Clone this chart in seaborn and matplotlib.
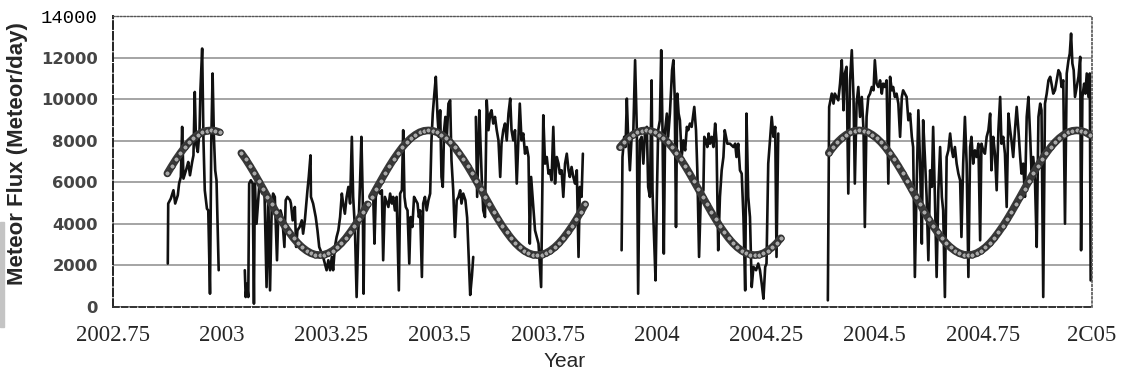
import numpy as np
import pandas as pd
import matplotlib
matplotlib.use("Agg")
import matplotlib.pyplot as plt
from matplotlib.patches import Rectangle
import seaborn as sns

# daily meteor flux as (year, meteors/day); gaps split the segments
seg1 = [(2002.876, 2090), (2002.877, 4980), (2002.883, 5220), (2002.889, 5620), (2002.893, 4980),
        (2002.899, 5380), (2002.902, 5940), (2002.906, 6260), (2002.909, 8670), (2002.912, 6180),
        (2002.919, 6660), (2002.923, 6980), (2002.927, 6340), (2002.932, 6980), (2002.935, 7300),
        (2002.938, 10350), (2002.941, 7860), (2002.945, 7460), (2002.949, 8510), (2002.951, 10430),
        (2002.955, 12440), (2002.958, 8020), (2002.961, 5620), (2002.966, 4730), (2002.969, 4650),
        (2002.973, 640), (2002.976, 8020), (2002.979, 11240), (2002.982, 8190), (2002.985, 6580),
        (2002.988, 6100), (2002.993, 1770)]

seg2 = [(2003.053, 1770), (2003.055, 480), (2003.058, 1120), (2003.061, 480), (2003.063, 5940),
        (2003.067, 6100), (2003.071, 5940), (2003.074, 160), (2003.076, 5940), (2003.080, 4010),
        (2003.086, 5780), (2003.090, 5620), (2003.093, 5460), (2003.098, 5780), (2003.103, 960),
        (2003.107, 5300), (2003.111, 800), (2003.115, 4980), (2003.118, 5460), (2003.122, 5300),
        (2003.127, 2250), (2003.130, 4490), (2003.135, 4650), (2003.139, 4330), (2003.144, 2890),
        (2003.147, 5140), (2003.151, 5300), (2003.157, 5140), (2003.159, 4980), (2003.163, 4170),
        (2003.168, 4815), (2003.171, 2890), (2003.174, 3690), (2003.179, 3850), (2003.184, 4170),
        (2003.187, 3530), (2003.191, 4170), (2003.197, 5620), (2003.200, 6260), (2003.204, 7300),
        (2003.205, 5300), (2003.210, 4980), (2003.216, 4330), (2003.220, 3690), (2003.224, 2890),
        (2003.233, 2410), (2003.241, 1770), (2003.245, 2250), (2003.249, 1770), (2003.253, 2410),
        (2003.256, 1770), (2003.260, 2890), (2003.264, 3370), (2003.268, 3690), (2003.272, 4330),
        (2003.276, 5460), (2003.279, 4980), (2003.283, 4490), (2003.287, 5300), (2003.291, 5780),
        (2003.295, 4980), (2003.299, 8190), (2003.302, 5300), (2003.306, 3850), (2003.310, 480),
        (2003.314, 3690), (2003.318, 6100), (2003.321, 8190), (2003.324, 5300), (2003.326, 640),
        (2003.328, 4650)]

seg3 = [(2003.348, 5460), (2003.351, 3050), (2003.354, 5300), (2003.358, 5620), (2003.364, 5460),
        (2003.368, 5620), (2003.371, 2250), (2003.375, 5300), (2003.383, 4815), (2003.387, 5460),
        (2003.391, 4980), (2003.394, 5300), (2003.398, 4650), (2003.402, 5300), (2003.407, 800),
        (2003.410, 5460), (2003.414, 5620), (2003.417, 8510), (2003.420, 5300), (2003.423, 4815),
        (2003.427, 4650), (2003.431, 2090), (2003.434, 4330), (2003.438, 3850), (2003.442, 5300),
        (2003.446, 5140), (2003.450, 4980), (2003.453, 4330), (2003.456, 4650), (2003.460, 1445),
        (2003.463, 4980), (2003.467, 5300), (2003.471, 4650), (2003.475, 5140), (2003.479, 5460),
        (2003.482, 8020), (2003.485, 9310), (2003.488, 10110), (2003.492, 11080), (2003.496, 9150),
        (2003.499, 8190), (2003.502, 9470), (2003.505, 6260), (2003.508, 5780), (2003.511, 8510),
        (2003.514, 9150), (2003.517, 8020), (2003.521, 9790), (2003.525, 9950), (2003.528, 7060),
        (2003.532, 5620), (2003.536, 3370), (2003.540, 5140), (2003.544, 5300), (2003.548, 5620),
        (2003.551, 4980), (2003.555, 5460), (2003.560, 5140), (2003.564, 4300), (2003.571, 580),
        (2003.575, 1500), (2003.578, 2410)]

seg4 = [(2003.584, 9150), (2003.587, 5300), (2003.592, 9470), (2003.595, 7700), (2003.598, 5940),
        (2003.601, 4650), (2003.605, 4330), (2003.609, 9950), (2003.613, 8510), (2003.617, 9310),
        (2003.620, 9470), (2003.624, 8830), (2003.628, 9150), (2003.632, 8510), (2003.636, 8020),
        (2003.640, 6260), (2003.643, 7860), (2003.647, 8510), (2003.651, 8830), (2003.655, 8020),
        (2003.659, 9310), (2003.663, 10030), (2003.666, 8510), (2003.670, 8020), (2003.674, 8510),
        (2003.678, 5940), (2003.682, 8190), (2003.685, 9790), (2003.689, 8020), (2003.693, 8350),
        (2003.697, 7380), (2003.701, 7700), (2003.705, 7220), (2003.708, 3050), (2003.711, 6260),
        (2003.720, 3690), (2003.728, 3050), (2003.734, 960), (2003.739, 9230), (2003.743, 6900),
        (2003.747, 7220), (2003.751, 6420), (2003.754, 6580), (2003.758, 6100), (2003.762, 8670),
        (2003.766, 5940), (2003.770, 7220), (2003.774, 6900), (2003.777, 6420), (2003.781, 6580),
        (2003.785, 5300), (2003.789, 6900), (2003.793, 7380), (2003.797, 6580), (2003.800, 6260),
        (2003.804, 6740), (2003.808, 6260), (2003.812, 5940), (2003.816, 6580), (2003.820, 2410),
        (2003.823, 5780), (2003.827, 5300), (2003.830, 7380)]

seg5 = [(2003.919, 2730), (2003.921, 7220), (2003.925, 8190), (2003.928, 7700), (2003.931, 10030),
        (2003.934, 8190), (2003.938, 6580), (2003.942, 8190), (2003.946, 8510), (2003.950, 11880),
        (2003.954, 8510), (2003.957, 640), (2003.961, 8020), (2003.965, 8190), (2003.969, 6900),
        (2003.973, 8510), (2003.977, 8670), (2003.980, 5780), (2003.984, 5300), (2003.988, 10910),
        (2003.990, 5620), (2003.993, 3690), (2003.997, 1280), (2004.000, 5300), (2004.003, 8510),
        (2004.007, 8990), (2004.010, 12360), (2004.013, 8510), (2004.016, 2570), (2004.019, 8510),
        (2004.023, 9310), (2004.026, 8190), (2004.030, 9310), (2004.035, 11400), (2004.038, 11880),
        (2004.041, 10110), (2004.044, 3850), (2004.047, 10270), (2004.050, 9310), (2004.053, 8990),
        (2004.057, 7220), (2004.061, 8020), (2004.065, 7540), (2004.069, 8670), (2004.072, 8510),
        (2004.076, 8830), (2004.080, 8670), (2004.086, 9630), (2004.090, 8510), (2004.093, 6580),
        (2004.097, 2410), (2004.101, 5300), (2004.107, 5620), (2004.109, 8190), (2004.113, 8020),
        (2004.116, 7700), (2004.119, 8350), (2004.122, 7860), (2004.126, 8190), (2004.130, 7700),
        (2004.134, 8830), (2004.137, 8020), (2004.141, 2730), (2004.145, 5300), (2004.149, 6580),
        (2004.153, 7220), (2004.156, 8510), (2004.159, 8190), (2004.162, 7860), (2004.168, 7860),
        (2004.176, 7700), (2004.180, 7860), (2004.183, 7220), (2004.187, 7860), (2004.191, 6580),
        (2004.195, 6420), (2004.199, 4330), (2004.203, 800), (2004.206, 9310), (2004.210, 5300),
        (2004.214, 4330), (2004.218, 960), (2004.222, 1930), (2004.228, 1770), (2004.233, 2090),
        (2004.237, 1770), (2004.241, 1120), (2004.245, 400), (2004.249, 1930), (2004.252, 2090),
        (2004.256, 6900), (2004.260, 8020), (2004.264, 9150), (2004.268, 8190), (2004.272, 8670),
        (2004.275, 2410), (2004.279, 8350)]

seg6 = [(2004.393, 320), (2004.396, 9630), (2004.399, 9950), (2004.402, 10270), (2004.406, 9790),
        (2004.409, 10270), (2004.413, 10110), (2004.417, 9950), (2004.421, 10750), (2004.425, 11880),
        (2004.429, 9470), (2004.432, 11240), (2004.436, 11560), (2004.440, 5460), (2004.444, 10910),
        (2004.448, 12360), (2004.452, 10110), (2004.455, 5940), (2004.459, 9790), (2004.463, 10590),
        (2004.467, 9150), (2004.471, 10110), (2004.475, 8510), (2004.478, 3850), (2004.482, 9150),
        (2004.486, 10110), (2004.490, 10270), (2004.494, 10590), (2004.498, 10430), (2004.501, 11880),
        (2004.505, 10750), (2004.509, 10590), (2004.513, 10910), (2004.517, 10270), (2004.520, 10750),
        (2004.524, 10590), (2004.528, 10910), (2004.532, 5940), (2004.536, 11080), (2004.540, 10430),
        (2004.543, 10590), (2004.547, 10110), (2004.551, 10270), (2004.555, 9790), (2004.559, 8190),
        (2004.563, 10110), (2004.566, 10430), (2004.570, 10270), (2004.574, 10110), (2004.578, 8990),
        (2004.582, 9310), (2004.586, 8190), (2004.589, 7700), (2004.593, 1445), (2004.597, 5780),
        (2004.601, 9470), (2004.605, 6900), (2004.609, 3050), (2004.612, 8990), (2004.616, 7220),
        (2004.620, 5300), (2004.624, 2250), (2004.628, 6580), (2004.632, 5780), (2004.635, 8670),
        (2004.639, 5300), (2004.643, 1445), (2004.647, 5620), (2004.651, 7700), (2004.655, 5300),
        (2004.658, 4650), (2004.662, 480), (2004.666, 7220), (2004.670, 7540), (2004.674, 8350),
        (2004.678, 7540), (2004.681, 7220), (2004.685, 7700), (2004.689, 6900), (2004.693, 6420),
        (2004.697, 6100), (2004.700, 3370), (2004.704, 6900), (2004.708, 9150), (2004.712, 6900),
        (2004.716, 1445), (2004.720, 7700), (2004.723, 8190), (2004.727, 6900), (2004.731, 7540),
        (2004.735, 7220), (2004.739, 7860), (2004.743, 3210), (2004.746, 7860), (2004.750, 7540),
        (2004.754, 7380), (2004.758, 8190), (2004.762, 8510), (2004.766, 9310), (2004.769, 6580),
        (2004.773, 8190), (2004.777, 7380), (2004.781, 5620), (2004.785, 8510), (2004.789, 10110),
        (2004.792, 7860), (2004.796, 8190), (2004.800, 7380), (2004.804, 4815), (2004.808, 9310),
        (2004.812, 8510), (2004.815, 8020), (2004.819, 7220), (2004.823, 8510), (2004.827, 9630),
        (2004.831, 8510), (2004.835, 7220), (2004.838, 6420), (2004.842, 6900), (2004.846, 5300),
        (2004.850, 9150), (2004.854, 10110), (2004.858, 8190), (2004.861, 6580), (2004.865, 7220),
        (2004.869, 6100), (2004.873, 2890), (2004.877, 9150), (2004.881, 9790), (2004.884, 9470),
        (2004.888, 480), (2004.892, 9790), (2004.896, 10270), (2004.900, 10910), (2004.904, 11080),
        (2004.907, 10750), (2004.911, 10270), (2004.915, 10430), (2004.919, 10910), (2004.923, 11400),
        (2004.927, 11240), (2004.930, 10590), (2004.934, 10910), (2004.938, 4010), (2004.942, 11240),
        (2004.946, 11880), (2004.949, 12200), (2004.952, 13160), (2004.955, 11720), (2004.958, 11400),
        (2004.961, 10110), (2004.965, 10590), (2004.969, 11080), (2004.973, 12040), (2004.975, 2730),
        (2004.978, 10110), (2004.982, 10750), (2004.985, 10270), (2004.988, 11240), (2004.992, 10110),
        (2004.995, 11240), (2004.997, 1280)]

flux_segments = [seg1, seg2, seg3, seg4, seg5, seg6]

# fitted curve (gray beads), read every 0.01 year from each start year
fit_starts = [2002.875, 2003.045, 2003.345, 2003.915, 2004.395]
fit_a = [6430, 6780, 7110, 7410, 7690, 7930, 8130, 8290, 8410, 8480, 8500, 8480, 8410]
fit_b = [7410, 7110, 6780, 6430, 6060, 5690, 5310, 4940, 4570, 4220, 3890, 3590, 3310, 3070, 2870,
         2710, 2590, 2520, 2500, 2520, 2590, 2710, 2870, 3070, 3310, 3590, 3890, 4220, 4570, 4940]
fit_c = [5310, 5690, 6060, 6430, 6780, 7110, 7410, 7690, 7930, 8130, 8290, 8410, 8480, 8500, 8480,
         8410, 8290, 8130, 7930, 7690, 7410, 7110, 6780, 6430, 6060, 5690, 5310, 4940, 4570, 4220,
         3890, 3590, 3310, 3070, 2870, 2710, 2590, 2520, 2500, 2520, 2590, 2710, 2870, 3070, 3310,
         3590, 3890, 4220, 4570, 4940]
fit_d = [7690, 7930, 8130, 8290, 8410, 8480, 8500, 8480, 8410, 8290, 8130, 7930, 7690, 7410, 7110,
         6780, 6430, 6060, 5690, 5310, 4940, 4570, 4220, 3890, 3590, 3310, 3070, 2870, 2710, 2590,
         2520, 2500, 2520, 2590, 2710, 2870, 3070, 3310]
fit_e = [7410, 7690, 7930, 8130, 8290, 8410, 8480, 8500, 8480, 8410, 8290, 8130, 7930, 7690, 7410,
         7110, 6780, 6430, 6060, 5690, 5310, 4940, 4570, 4220, 3890, 3590, 3310, 3070, 2870, 2710,
         2590, 2520, 2500, 2520, 2590, 2710, 2870, 3070, 3310, 3590, 3890, 4220, 4570, 4940, 5310,
         5690, 6060, 6430, 6780, 7110, 7410, 7690, 7930, 8130, 8290, 8410, 8480, 8500, 8480, 8410,
         8290]
fit_segments = [fit_a, fit_b, fit_c, fit_d, fit_e]

x_ticks = [2002.75, 2003, 2003.25, 2003.5, 2003.75, 2004, 2004.25, 2004.5, 2004.75, 2005]
x_labels = ["2002.75", "2003", "2003.25", "2003.5", "2003.75", "2004", "2004.25", "2004.5",
            "2004.75", "2C05"]
y_ticks = [0, 2000, 4000, 6000, 8000, 10000, 12000, 14000]

rows = []
for k, seg in enumerate(flux_segments):
    for yr, v in seg:
        rows.append((k, yr, v))
flux_df = pd.DataFrame(rows, columns=["segment", "year", "flux"])

fit_rows = []
for k, (start, vals) in enumerate(zip(fit_starts, fit_segments)):
    for i, v in enumerate(vals):
        fit_rows.append((k, round(start + 0.01 * i, 3), v))
fit_df = pd.DataFrame(fit_rows, columns=["segment", "year", "flux"])

sns.set_style("white")
fig = plt.figure(figsize=(11.24, 3.84), dpi=100)
ax = fig.add_axes([0.1005, 0.2005, 0.871, 0.7575])

ax.set_axisbelow(True)
ax.yaxis.grid(True, color="#8c8c8c", lw=1.1)

sns.lineplot(data=flux_df, x="year", y="flux", units="segment", estimator=None,
             color="#111111", lw=1.9, ax=ax, legend=False)
# fit: dark band with light beads on it
sns.lineplot(data=fit_df, x="year", y="flux", units="segment", estimator=None,
             color="#3a3a3a", lw=5.5, ax=ax, legend=False, zorder=3)
sns.scatterplot(data=fit_df, x="year", y="flux", s=14, color="#a8a8a8",
                edgecolor="#2a2a2a", linewidth=0.7, ax=ax, zorder=4)

ax.set_xlim(2002.75, 2005)
ax.set_ylim(0, 14000)
ax.set_xticks(x_ticks)
ax.set_xticklabels(x_labels, fontfamily="Liberation Serif", fontsize=16.5)
ax.set_yticks(y_ticks)
ax.set_yticklabels([str(v) for v in y_ticks], fontfamily="DejaVu Sans",
                   fontweight="bold", fontsize=11.8, color="#454545")
top = ax.get_yticklabels()[-1]
top.set_fontfamily("Liberation Mono")
top.set_fontweight("normal")
top.set_color("black")
top.set_fontsize(13.6)
ax.tick_params(axis="y", length=0, pad=11)
ax.tick_params(axis="x", length=5, width=1, color="#333333", pad=8, direction="out")

ax.spines["left"].set(color="#222222", lw=1.4, linestyle=(0, (4, 1.5)))
ax.spines["bottom"].set(color="#333333", lw=1.4, linestyle=(0, (3, 1.5)))
ax.spines["top"].set(color="#555555", lw=1.0, linestyle=(0, (1, 1.5)))
ax.spines["right"].set(color="#555555", lw=1.2, linestyle=(0, (1, 1.5)))

ax.set_xlabel("Year", fontfamily="Liberation Sans", fontsize=15)
ax.xaxis.label.set_va("center")
ax.xaxis.set_label_coords(0.461, -0.189)
ax.set_ylabel("Meteor Flux (Meteor/day)", fontfamily="Liberation Sans",
              fontweight="bold", fontsize=16)
ax.yaxis.label.set_va("center")
ax.yaxis.label.set_ha("center")
ax.yaxis.set_label_coords(-0.097, 0.529)

# scan shadow on the left edge
fig.patches.append(Rectangle((0, 1 - 327 / 384), 4 / 1124, 105 / 384,
                             transform=fig.transFigure, color="#c4c4c4", zorder=0))

fig.savefig("out.png", dpi=100)
